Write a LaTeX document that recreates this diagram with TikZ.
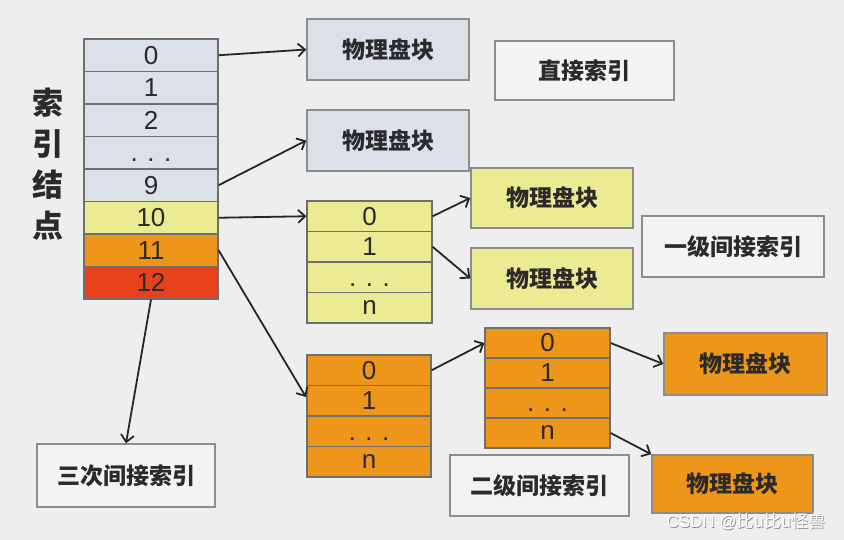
\documentclass[tikz,border=0pt]{standalone}
\usepackage{fontspec}
\setmainfont{Liberation Sans}
\newfontfamily\cjk{Noto Sans CJK SC}
\usetikzlibrary{arrows.meta}
\definecolor{bgc}{HTML}{EEEEEE}
\definecolor{grayc}{HTML}{DCE0E7}
\definecolor{yelc}{HTML}{EBEB94}
\definecolor{orc}{HTML}{EE961A}
\definecolor{redc}{HTML}{E8421C}
\definecolor{lblc}{HTML}{F3F3F3}
\definecolor{linec}{HTML}{6E6E6E}
\definecolor{boxc}{HTML}{8C8C8C}
\definecolor{txtc}{HTML}{2A2A2A}
\newcommand{\lowdots}{\vphantom{0}. . .}
\tikzset{
  cell/.style={draw=linec, line width=1.2pt, inner sep=0pt, text=txtc,
    font=\fontsize{26}{26}\selectfont},
  icell/.style={cell, minimum width=134pt, minimum height=32.5pt, fill=grayc},
  ycell/.style={cell, minimum width=125pt, minimum height=30.5pt, fill=yelc},
  o1cell/.style={cell, minimum width=124pt, minimum height=30.5pt, fill=orc},
  o2cell/.style={cell, minimum width=125pt, minimum height=30pt, fill=orc},
  blk/.style={draw=boxc, line width=1.5pt, inner sep=0pt, text=txtc,
    font=\cjk\bfseries\fontsize{23}{23}\selectfont},
  lbl/.style={blk, fill=lblc},
  arr/.style={draw=black!85, line width=1.8pt, -{Straight Barb[length=7pt,width=13pt]}}
}
\begin{document}
\begin{tikzpicture}[x=1pt,y=-1pt]
\fill[bgc] (0,0) rectangle (844,540);
\useasboundingbox (0,0) rectangle (844,540);

% vertical label
\node[align=center, text=txtc, font=\cjk\bfseries\fontsize{31}{41}\selectfont] (idxlbl) at (48,164) {索\\引\\结\\点};

% index node table
\node[icell] (r0) at (151,55.25) {0};
\node[icell] (r1) at (151,87.75) {1};
\node[icell] (r2) at (151,120.25) {2};
\node[icell] (rd) at (151,152.75) {\lowdots};
\node[icell] (r9) at (151,185.25) {9};
\node[icell, fill=yelc] (r10) at (151,217.75) {10};
\node[icell, fill=orc] (r11) at (151,250.25) {11};
\node[icell, fill=redc] (r12) at (151,282.75) {12};

% direct blocks
\node[blk, fill=grayc, minimum width=162pt, minimum height=61pt] (pb1) at (388,49.5) {物理盘块};
\node[blk, fill=grayc, minimum width=162pt, minimum height=61pt] (pb2) at (388,140.5) {物理盘块};
\node[lbl, minimum width=179pt, minimum height=59pt] (direct) at (584.5,70.5) {直接索引};

% single indirect
\node[ycell] (y0) at (369.5,216.25) {0};
\node[ycell] (y1) at (369.5,246.75) {1};
\node[ycell] (yd) at (369.5,277.25) {\lowdots};
\node[ycell] (yn) at (369.5,307.75) {n};
\node[blk, fill=yelc, minimum width=162pt, minimum height=60pt] (yb1) at (552,198) {物理盘块};
\node[blk, fill=yelc, minimum width=162pt, minimum height=61pt] (yb2) at (552,278.5) {物理盘块};
\node[lbl, minimum width=182pt, minimum height=61pt] (single) at (733,246.5) {一级间接索引};

% double indirect
\node[o1cell] (a0) at (369,370.25) {0};
\node[o1cell] (a1) at (369,400.75) {1};
\node[o1cell] (ad) at (369,431.25) {\lowdots};
\node[o1cell] (an) at (369,461.75) {n};
\node[o2cell] (b0) at (547.5,343) {0};
\node[o2cell] (b1) at (547.5,373) {1};
\node[o2cell] (bd) at (547.5,403) {\lowdots};
\node[o2cell] (bn) at (547.5,433) {n};
\node[blk, fill=orc, minimum width=163pt, minimum height=62pt] (ob1) at (745.5,364) {物理盘块};
\node[blk, fill=orc, minimum width=161pt, minimum height=58pt] (ob2) at (732.5,484) {物理盘块};
\node[lbl, minimum width=179pt, minimum height=61pt] (double) at (539.5,485.5) {二级间接索引};

% triple indirect
\node[lbl, minimum width=178pt, minimum height=63pt] (triple) at (126,475.5) {三次间接索引};

% arrows
\coordinate (t11) at (306,397);
\draw[arr] (r0.east) -- (pb1.west);
\draw[arr] (r9.east) -- (pb2.west);
\draw[arr] (r10.east) -- (y0.west);
\draw[arr] (r11.east) -- (t11);
\draw[arr] (r12.south) -- (triple.north);
\draw[arr] (y0.east) -- (yb1.west);
\draw[arr] (y1.east) -- (yb2.west);
\draw[arr] (a0.east) -- (b0.west);
\draw[arr] (b0.east) -- (ob1.west);
\draw[arr] (bn.east) -- (ob2.north west);

% watermark
\node[text=black!45, font=\fontsize{17}{17}\selectfont, anchor=east] (wm0) at (829.7,522.7) {CSDN @\cjk 比u比u怪兽};
\node[text=white, font=\fontsize{17}{17}\selectfont, anchor=east] (wm) at (829,522) {CSDN @\cjk 比u比u怪兽};
\end{tikzpicture}
\end{document}
